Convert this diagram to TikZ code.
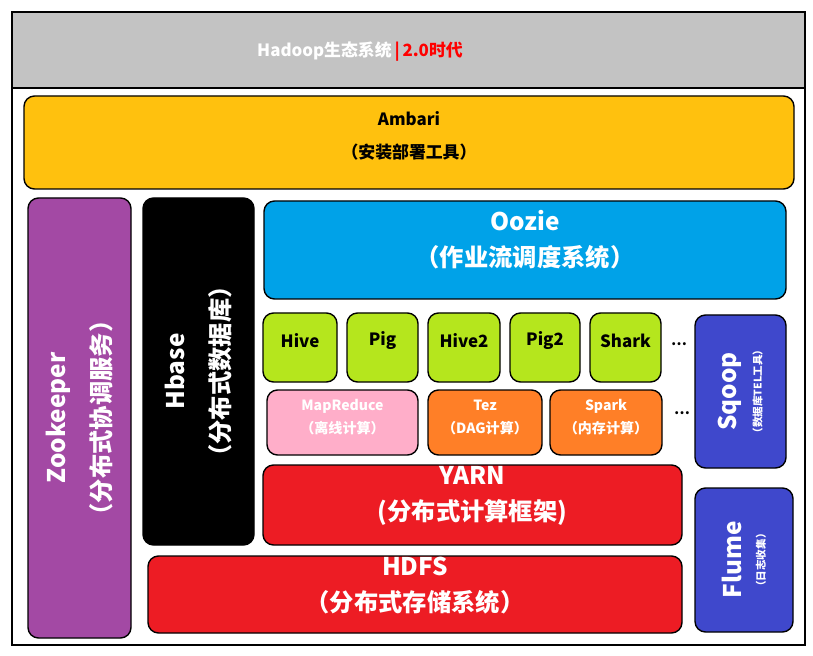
\documentclass[tikz,border=0pt]{standalone}
\usepackage{fontspec}
\setmainfont{Noto Sans CJK SC}
\usetikzlibrary{fit}
\definecolor{hdrGray}{RGB}{195,195,195}
\definecolor{ambYellow}{RGB}{255,193,14}
\definecolor{zooPurple}{RGB}{163,73,164}
\definecolor{oozBlue}{RGB}{0,162,232}
\definecolor{hivGreen}{RGB}{181,230,29}
\definecolor{mrPink}{RGB}{255,174,201}
\definecolor{tezOrange}{RGB}{255,127,39}
\definecolor{sqpBlue}{RGB}{63,72,204}
\definecolor{yrnRed}{RGB}{237,28,36}
\tikzset{
  box/.style={draw=black,line width=1.2pt,rounded corners=9pt,inner sep=0pt,align=center,font=\bfseries},
  wtxt/.style={text=white,align=center,font=\bfseries},
}
\begin{document}
\begin{tikzpicture}[x=0.03cm,y=-0.03cm]
\useasboundingbox (0,0) rectangle (813,656);
% frame and title
\draw[line width=1.5pt,fill=white] (12,12) rectangle (805,645);
\node[draw=black,line width=1.5pt,fill=hdrGray,inner sep=0pt,fit={(12,12) (805,88)}] (title) {};
\node[wtxt,font=\bfseries\Large] (titletxt) at (360,52) {Hadoop生态系统\,\textcolor{red}{|\,2.0时代}};
% top layers
\node[box,fill=ambYellow,fit={(24,96) (794,189)},font=\bfseries\Large] (ambari) {Ambari\\[10pt]（安装部署工具）};
\node[box,fill=oozBlue,fit={(264,201) (786,299)},text=white,font=\bfseries\huge] (oozie) {Oozie\\[6pt]（作业流调度系统）};
% vertical columns
\node[box,fill=zooPurple,fit={(28,198) (131,638)}] (zoo) {};
\node[wtxt,rotate=90,font=\bfseries\huge] at (zoo) {Zookeeper\\[14pt]（分布式协调服务）};
\node[box,fill=black,fit={(143,198) (254,545)}] (hbase) {};
\node[wtxt,rotate=90,font=\bfseries\huge] at (hbase) {Hbase\\[14pt]（分布式数据库）};
\node[box,fill=sqpBlue,fit={(695,315) (786,468)}] (sqoop) {};
\node[wtxt,rotate=90] at (sqoop) {{\huge Sqoop}\\[8pt]{\small（数据库TEL工具）}};
\node[box,fill=sqpBlue,fit={(695,488) (793,632)}] (flume) {};
\node[wtxt,rotate=90] at (flume) {{\huge Flume}\\[8pt]{\small（日志收集）}};
% tools
\node[box,fill=hivGreen,fit={(263,313) (337,382)},font=\bfseries\Large] (hive) {Hive};
\node[box,fill=hivGreen,fit={(347,313) (418,382)},font=\bfseries\Large] (pig) {Pig};
\node[box,fill=hivGreen,fit={(428,313) (500,382)},font=\bfseries\Large] (hive2) {Hive2};
\node[box,fill=hivGreen,fit={(510,313) (580,382)},font=\bfseries\Large] (pig2) {Pig2};
\node[box,fill=hivGreen,fit={(590,313) (661,382)},font=\bfseries\Large] (shark) {Shark};
\node[font=\bfseries\large] (dots1) at (679,344) {…};
% engines
\node[box,fill=mrPink,fit={(267,390) (418,455)},text=white,font=\bfseries\large] (mapred) {MapReduce\\[6pt]（离线计算）};
\node[box,fill=tezOrange,fit={(428,390) (542,455)},text=white,font=\bfseries\large] (tez) {Tez\\[6pt]（DAG计算）};
\node[box,fill=tezOrange,fit={(550,390) (662,455)},text=white,font=\bfseries\large] (spark) {Spark\\[6pt]（内存计算）};
\node[font=\bfseries\large] (dots2) at (682,413) {…};
% base layers
\node[box,fill=yrnRed,fit={(263,465) (682,545)},text=white,font=\bfseries\huge] (yarn) {YARN\\[6pt](分布式计算框架)};
\node[box,fill=yrnRed,fit={(148,556) (682,633)},text=white,font=\bfseries\huge] (hdfs) {HDFS\\[6pt]（分布式存储系统）};
\end{tikzpicture}
\end{document}
